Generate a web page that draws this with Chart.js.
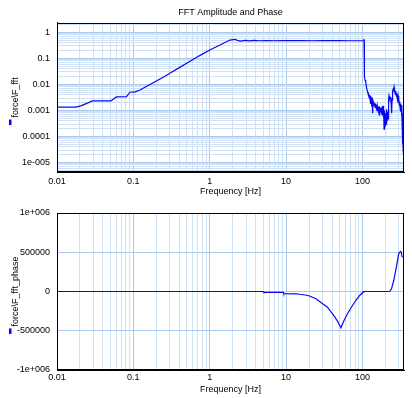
<!DOCTYPE html>
<html>
<head>
<meta charset="utf-8">
<script src="https://cdn.jsdelivr.net/npm/chart.js@4/dist/chart.umd.min.js"></script>
<style>
  html, body { margin: 0; padding: 0; background: #fff; }
  #wrap { position: relative; width: 412px; height: 398px; }
  canvas { position: absolute; left: 0; }
</style>
</head>
<body>
<div id="wrap">
  <canvas id="ampChart" width="412" height="200" style="top:0"></canvas>
  <canvas id="phaseChart" width="412" height="198" style="top:200px"></canvas>
</div>
<script>
// axis ranges and tick labels
const FREQ_MIN = 0.01, FREQ_MAX = 350;
const AMP_MIN = 4.3e-6, AMP_MAX = 2.33;
const freqTicks = [0.01, 0.1, 1, 10, 100];
const freqTickLabels = ['0.01', '0.1', '1', '10', '100'];
const ampTicks = [1e-5, 1e-4, 1e-3, 1e-2, 1e-1, 1];
const ampTickLabels = ['1e-005', '0.0001', '0.001', '0.01', '0.1', '1'];
const phaseTicks = [-1e6, -5e5, 0, 5e5, 1e6];
const phaseTickLabels = ['-1e+006', '-500000', '0', '500000', '1e+006'];

// force\F_fft (amplitude)
const ampFreq = [
  0.01, 0.0176, 0.0206, 0.029, 0.0509, 0.0598, 0.0814, 0.09, 0.105, 0.122,
  0.15, 0.2, 0.246, 0.3, 0.4, 0.5, 0.674, 0.8, 1.0, 1.3,
  1.66, 1.84, 2.14, 2.3, 2.51, 2.9, 3.3, 3.8, 4.5, 5.5,
  7, 9, 12, 16, 22, 30, 40, 50, 65, 80,
  100, 103.5, 104.3, 105, 106, 108, 110.4, 112, 114.9, 116,
  118.4, 119.5, 120.9, 122.5, 124.6, 126, 127.6, 129, 131.1, 132.5,
  134.4, 136, 137.6, 139.5, 141.4, 143, 144.9, 147, 149.3, 151,
  152.4, 154, 156.2, 158, 159.9, 161.5, 163.5, 165.5, 168.4, 170.5,
  172.6, 175, 177.3, 179.5, 181.6, 184, 185.9, 188, 190, 192,
  193.9, 195.5, 197.6, 199.5, 201.9, 204, 206.2, 208, 209.8, 212,
  214.5, 216.5, 219, 220.8, 222.8, 225, 227.7, 231, 234.9, 237.5,
  239.9, 242, 244, 246.5, 249.2, 252, 254.5, 256.5, 259, 261.5,
  264.5, 268.5, 273, 277, 281.4, 287, 292.4, 296, 300.4, 304,
  307.6, 311.5, 315.3, 319, 323.5, 326, 328.6, 331, 333.5, 336,
  338.6, 341, 343.8, 347, 349, 350
];
const ampValues = [
  0.00133, 0.00133, 0.0015, 0.00232, 0.00232, 0.0033, 0.0034, 0.005, 0.0052, 0.0061,
  0.0085, 0.0135, 0.0188, 0.0266, 0.0441, 0.0653, 0.11, 0.146, 0.21, 0.307,
  0.436, 0.507, 0.54, 0.49, 0.464, 0.49, 0.47, 0.488, 0.475, 0.485,
  0.475, 0.485, 0.477, 0.485, 0.476, 0.484, 0.477, 0.483, 0.476, 0.476,
  0.476, 0.476, 0.55, 0.48, 0.02, 0.0148, 0.0128, 0.009, 0.0061, 0.0055,
  0.0048, 0.0035, 0.0042, 0.003, 0.0039, 0.0024, 0.0036, 0.0018, 0.0031, 0.0014,
  0.0026, 0.00078, 0.0022, 0.0016, 0.002, 0.0015, 0.0019, 0.0013, 0.0018, 0.0012,
  0.0016, 0.0011, 0.0015, 0.00095, 0.0014, 0.0008, 0.0013, 0.00067, 0.0014, 0.0009,
  0.0012, 0.00095, 0.0013, 0.0008, 0.0014, 0.00065, 0.0015, 0.00055, 0.0012, 0.00019,
  0.001, 0.00022, 0.0007, 0.00024, 0.0008, 0.0003, 0.0011, 0.00035, 0.0009, 0.0004,
  0.0006, 0.00047, 0.0012, 0.0026, 0.0037, 0.003, 0.0034, 0.0029, 0.0033, 0.002,
  0.0028, 0.00078, 0.0025, 0.0035, 0.0055, 0.0065, 0.0075, 0.006, 0.0078, 0.005,
  0.0065, 0.0042, 0.0055, 0.0035, 0.0045, 0.0026, 0.0037, 0.002, 0.003, 0.0016,
  0.0022, 0.0012, 0.0018, 0.0009, 0.0016, 0.0006, 0.0011, 0.00025, 0.0008, 0.00005,
  0.0005, 0.00003, 0.0002, 0.000017, 0.0001, 0.000017
];

// force\F_fft_phase
const phaseFreq = [
  0.01, 5, 5.1, 9.2, 9.3, 13.6, 19.5, 24.6, 28.3, 34.8,
  43.6, 48, 52.2, 56, 61.7, 69.6, 81.7, 92, 101.8, 104,
  227.7, 240, 257, 267, 278, 289, 298, 314, 323, 330,
  350
];
const phaseValues = [
  0, 0, -12000, -12000, -27000, -29000, -51000, -93000, -136000, -200000,
  -327000, -391000, -462000, -391000, -306000, -220000, -115000, -51000, -9000, 0,
  0, 34000, 140000, 225000, 310000, 404000, 480000, 510000, 497000, 446000,
  437000
];

const FONT = { family: "'Liberation Sans', Arial, sans-serif", size: 9, weight: 'normal' };
const LINE_COLOR = '#0808ee';
const GRID_MAJOR = '#a9c9ee';
const GRID_MINOR = '#d0e1f6';

function logGridTicks(min, max) {
  const out = [];
  for (let e = Math.floor(Math.log10(min)); e <= Math.ceil(Math.log10(max)); e++) {
    for (let m = 1; m <= 9; m++) {
      const v = m * Math.pow(10, e);
      if (v >= min && v <= max) out.push({ value: v, major: m === 1 });
    }
  }
  return out;
}

function tickLabel(values, labels) {
  return v => {
    const i = values.findIndex(t => Math.abs(t - v) <= Math.abs(t) * 1e-6);
    return i < 0 ? '' : labels[i];
  };
}

const gridColor = c => (c.tick && c.tick.major ? GRID_MAJOR : GRID_MINOR);

function freqScale(labelPad) {
  return {
    type: 'logarithmic', min: FREQ_MIN, max: FREQ_MAX,
    afterBuildTicks: s => { s.ticks = logGridTicks(FREQ_MIN, FREQ_MAX); },
    afterFit: s => { s.height = 28; },
    grid: { drawTicks: false, color: gridColor, lineWidth: 1 },
    border: { display: true, color: '#000', width: 1 },
    ticks: {
      autoSkip: false, maxRotation: 0, minRotation: 0, padding: labelPad,
      color: '#000', font: FONT, callback: tickLabel(freqTicks, freqTickLabels)
    },
    title: { display: true, text: 'Frequency [Hz]', color: '#000', font: FONT, padding: { top: 0, bottom: 3 } }
  };
}

// black box round the plot area and blue series mark before the y title
const frame = {
  id: 'frame',
  afterDatasetsDraw(chart) {
    const { ctx, chartArea: a } = chart;
    ctx.save();
    ctx.strokeStyle = '#000';
    ctx.lineWidth = 1;
    ctx.strokeRect(Math.round(a.left) + 0.5, Math.round(a.top) + 0.5,
      Math.round(a.right) - Math.round(a.left) - 1, Math.round(a.bottom) - Math.round(a.top) - 1);
    ctx.restore();
  },
  afterDraw(chart) {
    const { ctx, chartArea: a } = chart;
    const text = chart.options.scales.y.title.text;
    ctx.save();
    ctx.font = "9px 'Liberation Sans', Arial, sans-serif";
    const w = ctx.measureText(text).width;
    ctx.fillStyle = LINE_COLOR;
    ctx.fillRect(9, (a.top + a.bottom) / 2 + w / 2 + 2, 2.5, 5.5);
    ctx.restore();
  }
};

function lineData(xs, ys) {
  return [{
    data: xs.map((x, i) => ({ x, y: ys[i] })),
    borderColor: LINE_COLOR, borderWidth: 1.2, pointRadius: 0, tension: 0, fill: false
  }];
}

new Chart(document.getElementById('ampChart'), {
  type: 'line',
  data: { datasets: lineData(ampFreq, ampValues) },
  plugins: [frame],
  options: {
    responsive: false, animation: false, devicePixelRatio: 1,
    layout: { padding: { left: 0, right: 8, top: 0, bottom: 0 } },
    plugins: {
      legend: { display: false }, tooltip: { enabled: false },
      title: {
        display: true, text: 'FFT Amplitude and Phase', fullSize: false,
        color: '#000', font: FONT, padding: { top: 7, bottom: 5 }
      }
    },
    scales: {
      x: freqScale(4),
      y: {
        type: 'logarithmic', min: AMP_MIN, max: AMP_MAX,
        afterBuildTicks: s => { s.ticks = logGridTicks(AMP_MIN, AMP_MAX); },
        afterFit: s => { s.width = 57; },
        grid: { drawTicks: false, color: gridColor, lineWidth: 1 },
        border: { display: true, color: '#000', width: 1 },
        ticks: { autoSkip: false, padding: 7, color: '#000', font: FONT, callback: tickLabel(ampTicks, ampTickLabels) },
        title: { display: true, text: 'force\\F_fft', color: '#000', font: FONT, padding: { top: 10, bottom: 0 } }
      }
    }
  }
});

new Chart(document.getElementById('phaseChart'), {
  type: 'line',
  data: { datasets: lineData(phaseFreq, phaseValues) },
  plugins: [frame],
  options: {
    responsive: false, animation: false, devicePixelRatio: 1,
    layout: { padding: { left: 0, right: 8, top: 13, bottom: 0 } },
    plugins: { legend: { display: false }, tooltip: { enabled: false } },
    scales: {
      x: freqScale(2),
      y: {
        type: 'linear', min: -1e6, max: 1e6,
        afterFit: s => { s.width = 57; },
        grid: { drawTicks: false, color: GRID_MAJOR, lineWidth: 1 },
        border: { display: true, color: '#000', width: 1 },
        ticks: { stepSize: 500000, padding: 7, color: '#000', font: FONT, callback: tickLabel(phaseTicks, phaseTickLabels) },
        title: { display: true, text: 'force\\F_fft_phase', color: '#000', font: FONT, padding: { top: 10, bottom: 0 } }
      }
    }
  }
});
</script>
</body>
</html>
